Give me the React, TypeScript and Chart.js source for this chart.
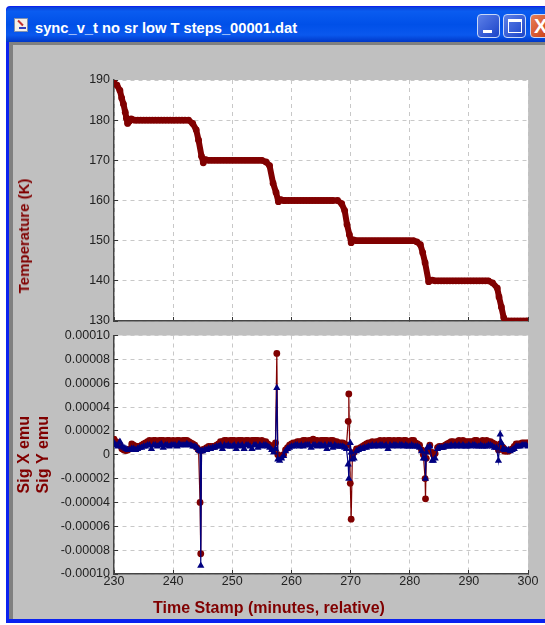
import React, { useEffect, useRef } from "react";
import { Chart, registerables } from "chart.js";

Chart.register(...registerables);

const windowTitle = "sync_v_t no sr low T steps_00001.dat";
const xTitle = "Time Stamp (minutes, relative)";
const tempTitle = "Temperature (K)";
const sigTitle = ["Sig X emu", "Sig Y emu"];
const sigTickLabels = ["-0.00010", "-0.00008", "-0.00006", "-0.00004", "-0.00002", "0", "0.00002", "0.00004", "0.00006", "0.00008", "0.00010"];

const tempTime = [
  230, 230.5, 231, 231.3, 231.6, 231.9, 232.1, 232.3, 232.6, 232.9, 233.5, 234, 234.5, 235, 235.5, 236, 236.5, 237, 237.5, 238, 238.5, 239, 239.5, 240, 240.5, 241, 241.5, 242, 242.6,
  243.3, 243.9, 244.3, 244.8, 245.1, 245.5, 246, 246.5, 247, 247.5, 248, 248.5, 249, 249.5, 250, 250.5, 251, 251.5, 252, 252.5, 253, 253.5, 254, 254.5, 255,
  255.7, 256.3, 256.9, 257.4, 257.8, 258.2, 258.7, 259, 259.5, 260, 260.5, 261, 261.5, 262, 262.5, 263, 263.5, 264, 264.5, 265, 265.5, 266, 266.5, 267, 267.8,
  268.5, 269, 269.4, 269.8, 270.1, 270.5, 271, 271.5, 272, 272.5, 273, 273.5, 274, 274.5, 275, 275.5, 276, 276.5, 277, 277.5, 278, 278.5, 279, 279.5, 280, 280.6,
  281.2, 281.8, 282.2, 282.6, 283.2, 283.8, 284.3, 284.8, 285.3, 285.8, 286.3, 286.8, 287.3, 287.8, 288.3, 288.8, 289.3, 289.8, 290.3, 290.8, 291.3, 291.8, 292.3, 292.8, 293.3,
  294, 294.8, 295.1, 295.5, 295.9, 296.2, 296.7, 297.2, 297.7, 298.2, 298.7, 299.2, 299.7, 300,
];
const temperature = [
  189.3, 188.7, 187.4, 185.5, 184, 182, 180.5, 179.2, 179.7, 180.3, 180, 180, 180, 180, 180, 180, 180, 180, 180, 180, 180, 180, 180, 180, 180, 180, 180, 180, 180,
  179.2, 177.6, 175, 171, 169.4, 170.2, 170, 170, 170, 170, 170, 170, 170, 170, 170, 170, 170, 170, 170, 170, 170, 170, 170, 170, 170,
  169.6, 168.7, 164.3, 162, 159.7, 160.2, 160, 160, 160, 160, 160, 160, 160, 160, 160, 160, 160, 160, 160, 160, 160, 160, 160, 160, 160,
  159.2, 157.5, 154, 151.5, 149.5, 150.2, 150, 150, 150, 150, 150, 150, 150, 150, 150, 150, 150, 150, 150, 150, 150, 150, 150, 150, 150, 150,
  149.7, 149, 147, 144.5, 139.8, 140.2, 140, 140, 140, 140, 140, 140, 140, 140, 140, 140, 140, 140, 140, 140, 140, 140, 140, 140, 140,
  139.5, 138.2, 136, 133.5, 130.8, 130, 130, 130, 130, 130, 130, 130, 130, 130,
];

const sigTime = [
  230, 230.33, 230.67, 231, 231.33, 231.67, 232, 232.33, 232.67, 233, 233.33, 233.67, 234, 234.33, 234.67, 235, 235.33, 235.67, 236, 236.33, 236.67, 237, 237.33, 237.67, 238, 238.33, 238.67, 239, 239.33, 239.67,
  240, 240.33, 240.67, 241, 241.33, 241.67, 242, 242.33, 242.67, 243, 243.33, 243.67, 244, 244.3, 244.55, 244.67, 244.8, 245, 245.33, 245.67, 246, 246.33, 246.67, 247, 247.33, 247.67, 248, 248.33, 248.67, 249, 249.33, 249.67,
  250, 250.33, 250.67, 251, 251.33, 251.67, 252, 252.33, 252.67, 253, 253.33, 253.67, 254, 254.33, 254.67, 255, 255.33, 255.67, 256, 256.33, 256.67, 257, 257.3, 257.53, 257.7, 258, 258.33, 258.67, 259, 259.33, 259.67,
  260, 260.33, 260.67, 261, 261.33, 261.67, 262, 262.33, 262.67, 263, 263.33, 263.67, 264, 264.33, 264.67, 265, 265.33, 265.67, 266, 266.33, 266.67, 267, 267.33, 267.67, 268, 268.33, 268.67, 269, 269.3, 269.6, 269.7,
  269.95, 270.1, 270.3, 270.6, 271, 271.33, 271.67, 272, 272.33, 272.67, 273, 273.33, 273.67, 274, 274.33, 274.67, 275, 275.33, 275.67, 276, 276.33, 276.67, 277, 277.33, 277.67, 278, 278.33, 278.67, 279, 279.33, 279.67,
  280, 280.33, 280.67, 281, 281.33, 281.67, 282, 282.3, 282.6, 282.67, 282.8, 283, 283.4, 283.8, 284, 284.3, 284.7, 285, 285.33, 285.67, 286, 286.33, 286.67, 287, 287.33, 287.67, 288, 288.33, 288.67, 289, 289.33, 289.67,
  290, 290.33, 290.67, 291, 291.33, 291.67, 292, 292.33, 292.67, 293, 293.33, 293.67, 294, 294.33, 294.67, 295, 295.3, 295.5, 295.8, 296, 296.33, 296.67, 297, 297.33, 297.67, 298, 298.33, 298.67, 299, 299.33, 299.67, 300,
];
// Both signal series are listed in units of 1e-5 emu.
const sigX = [
  1.3, 1.1, 1.0, 0.8, 0.5, 0.4, 0.35, 0.4, 0.5, 0.9, 0.8, 0.7, 0.7, 0.7, 0.8, 0.9, 1.0, 1.1, 1.2, 1.1, 1.2, 1.2, 1.1, 1.2, 1.2, 1.2, 1.1, 1.2, 1.2, 1.1,
  1.2, 1.1, 1.2, 1.2, 1.1, 1.2, 1.2, 1.2, 1.1, 1.0, 0.9, 0.8, 0.6, 0.4, -4.0, -8.3, 0.4, 0.4, 0.5, 0.6, 0.7, 0.7, 0.7, 0.7, 0.8, 0.9, 1.1, 1.1, 1.2, 1.2, 1.1, 1.2,
  1.2, 1.2, 1.1, 1.2, 1.2, 1.2, 1.1, 1.2, 1.2, 1.1, 1.2, 1.2, 1.2, 1.2, 1.1, 1.2, 1.1, 1.1, 0.9, 0.8, 0.6, 0.4, 1.0, 8.5, 0.0, -0.2, -0.1, 0.0, 0.4, 0.6, 0.8,
  0.9, 1.0, 1.0, 1.1, 1.1, 1.1, 1.2, 1.2, 1.1, 1.2, 1.2, 1.3, 1.2, 1.2, 1.1, 1.2, 1.2, 1.2, 1.2, 1.1, 1.2, 1.2, 1.1, 1.1, 1.0, 1.0, 1.0, 0.9, 0.8, 2.8, 5.1,
  -2.4, -5.4, -0.2, 0.2, 0.5, 0.5, 0.6, 0.7, 0.8, 0.9, 1.0, 1.0, 1.1, 1.0, 1.1, 1.1, 1.2, 1.1, 1.2, 1.1, 1.2, 1.2, 1.1, 1.2, 1.1, 1.2, 1.2, 1.1, 1.2, 1.2, 1.1,
  1.1, 1.2, 1.2, 1.0, 0.9, 0.8, 0.4, 0.0, -2.0, -3.7, -0.3, 0.4, 0.8, 0.2, 0.0, 0.1, 0.6, 0.7, 0.7, 0.7, 0.8, 0.9, 1.0, 1.1, 1.1, 1.0, 1.1, 1.2, 1.1, 1.2, 1.1, 1.1,
  1.1, 1.1, 1.1, 1.2, 1.2, 1.0, 1.1, 1.2, 1.1, 1.2, 1.1, 1.1, 1.0, 0.9, 0.7, 0.4, 0.9, 0.7, 0.6, 0.3, 0.3, 0.3, 0.4, 0.5, 0.7, 0.9, 0.9, 0.9, 1.0, 1.0, 1.0, 1.0,
];
const sigY = [
  1.0, 0.8, 0.7, 1.1, 0.7, 0.6, 0.5, 0.4, 0.4, 0.5, 0.5, 0.4, 0.5, 0.6, 0.6, 0.7, 0.7, 0.8, 0.8, 0.5, 0.8, 0.8, 0.7, 0.8, 0.9, 0.6, 0.8, 0.8, 0.7, 0.8,
  0.8, 0.8, 0.7, 0.9, 0.8, 0.8, 0.8, 0.9, 0.8, 0.8, 0.7, 0.7, 0.6, 0.4, 0.3, -9.3, 0.3, 0.3, 0.4, 0.4, 0.5, 0.5, 0.6, 0.6, 0.7, 0.7, 0.8, 0.5, 0.8, 0.7, 0.8, 0.7,
  0.7, 0.8, 0.5, 0.8, 0.7, 0.8, 0.5, 0.8, 0.8, 0.7, 0.5, 0.8, 0.8, 0.6, 0.8, 0.7, 0.8, 0.8, 0.7, 0.6, 0.4, 0.2, 0.5, 5.6, -0.4, -0.5, -0.3, -0.1, 0.3, 0.5, 0.6,
  0.7, 0.7, 0.8, 0.8, 0.7, 0.8, 0.7, 0.8, 0.8, 0.8, 0.6, 0.8, 0.8, 0.7, 0.8, 0.8, 0.7, 0.8, 0.5, 0.8, 0.8, 0.6, 0.8, 0.7, 0.7, 0.7, 0.7, 0.6, 0.5, -0.8, -2.0,
  1.0, 0.2, -0.4, -0.3, 0.3, 0.4, 0.5, 0.5, 0.6, 0.6, 0.7, 0.7, 0.8, 0.7, 0.8, 0.7, 0.8, 0.8, 0.7, 0.8, 0.5, 0.8, 0.7, 0.8, 0.8, 0.7, 0.8, 0.8, 0.7, 0.8, 0.7,
  0.7, 0.8, 0.7, 0.7, 0.7, 0.6, 0.3, -0.3, -0.3, -2.0, 0.2, 0.6, 0.7, -0.5, -0.5, -0.3, 0.5, 0.6, 0.6, 0.6, 0.7, 0.7, 0.7, 0.8, 0.7, 0.8, 0.7, 0.8, 0.7, 0.8, 0.7, 0.7,
  0.8, 0.7, 0.8, 0.8, 0.7, 0.7, 0.8, 0.7, 0.7, 0.7, 0.8, 0.8, 0.7, 0.6, 0.6, -0.5, 1.7, 1.0, 0.5, 0.4, 0.4, 0.4, 0.3, 0.4, 0.5, 0.7, 0.7, 0.7, 0.8, 0.8, 0.8, 0.7,
];

const RED = "#800000";
const NAVY = "#000080";
const TICK_FONT = { family: "'Liberation Sans', Arial, sans-serif", size: 12.5 };

const whitePlot = {
  id: "whitePlot",
  beforeDraw(chart: any) {
    const { ctx, chartArea: a } = chart;
    ctx.save();
    ctx.fillStyle = "#ffffff";
    ctx.fillRect(a.left, a.top, a.right - a.left, a.bottom - a.top);
    ctx.restore();
  },
};

function axes(showX: boolean, yExtra: any) {
  const grid = {
    color: "#c8c8c8",
    lineWidth: 1,
    tickLength: -4,
    tickColor: "#333333",
    tickBorderDash: [],
  };
  return {
    x: {
      type: "linear",
      min: 230,
      max: 300,
      grid,
      border: { color: "#444444", width: 1.5, dash: [4, 4] },
      ticks: {
        stepSize: 10,
        display: showX,
        color: "#222222",
        font: TICK_FONT,
        padding: 4,
        maxRotation: 0,
        autoSkip: false,
      },
      afterFit(s: any) { s.height = 24; },
    },
    y: {
      grid,
      border: { color: "#444444", width: 1.5, dash: [4, 4] },
      afterFit(s: any) { s.width = 114; },
      ...yExtra,
    },
  };
}

function opts(showX: boolean, yExtra: any, padding: any) {
  return {
    animation: false,
    responsive: false,
    layout: { padding },
    plugins: { legend: { display: false }, tooltip: { enabled: false } },
    scales: axes(showX, yExtra),
  };
}

export default function App() {
  const topRef = useRef<HTMLCanvasElement>(null);
  const botRef = useRef<HTMLCanvasElement>(null);

  useEffect(() => {
    const top = new Chart(topRef.current as any, {
      type: "line",
      plugins: [whitePlot],
      data: {
        datasets: [{
          data: tempTime.map((t, i) => ({ x: t, y: temperature[i] })),
          borderColor: RED,
          backgroundColor: RED,
          borderWidth: 6,
          borderJoinStyle: "round",
          pointRadius: 3.4,
          pointBorderWidth: 0,
          tension: 0,
        }],
      },
      options: opts(false, {
        min: 130,
        max: 190,
        ticks: { stepSize: 10, color: "#222222", font: TICK_FONT, padding: 8 },
      }, { top: 20, right: 17, bottom: 0, left: 0 }) as any,
    } as any);

    const bot = new Chart(botRef.current as any, {
      type: "line",
      plugins: [whitePlot],
      data: {
        datasets: [
          {
            label: "Sig Y",
            order: 0,
            data: sigTime.map((t, i) => ({ x: t, y: sigY[i] * 1e-5 })),
            borderColor: NAVY,
            backgroundColor: NAVY,
            borderWidth: 1.2,
            pointStyle: "triangle",
            pointRadius: 4.2,
            pointBorderWidth: 0,
            tension: 0,
          },
          {
            label: "Sig X",
            order: 1,
            data: sigTime.map((t, i) => ({ x: t, y: sigX[i] * 1e-5 })),
            borderColor: RED,
            backgroundColor: RED,
            borderWidth: 1.2,
            pointRadius: 3.4,
            pointBorderWidth: 0,
            tension: 0,
          },
        ],
      },
      options: opts(true, {
        min: -0.0001,
        max: 0.0001,
        title: {
          display: true,
          text: sigTitle,
          color: RED,
          font: { family: "'Liberation Sans', Arial, sans-serif", size: 16, weight: "bold" },
          padding: { top: 15, bottom: 0 },
        },
        ticks: {
          stepSize: 0.00002,
          color: "#222222",
          font: TICK_FONT,
          padding: 8,
          callback: (_v: any, i: number) => sigTickLabels[i],
        },
      }, { top: 13, right: 17, bottom: 0, left: 0 }) as any,
    } as any);

    return () => { top.destroy(); bot.destroy(); };
  }, []);

  const abs = (o: any): any => ({ position: "absolute", ...o });
  const btn = (left: number, bg: string, w = 23): any => abs({
    left, top: 14, width: w, height: 24, borderRadius: 4,
    border: "1px solid #c8d8f8", background: bg, boxSizing: "border-box",
    overflow: "hidden",
  });

  return (
    <div style={abs({ position: "fixed", left: 0, top: 0, width: 545, height: 625, background: "#ffffff", overflow: "hidden" })}>
      <div style={abs({ left: 6, top: 6, width: 539, height: 617, background: "#0a22f0", borderRadius: "4px 0 0 0" })} />
      <div style={abs({ left: 6, top: 7, width: 539, height: 35, borderRadius: "5px 0 0 0", background: "linear-gradient(180deg,#0a3fd8 0%,#0a5cf0 12%,#0050e8 50%,#0a58ee 80%,#0038c8 100%)" })} />
      <div style={abs({ left: 9, top: 42, width: 536, height: 577, background: "#808080" })} />
      <div style={abs({ left: 13, top: 45, width: 532, height: 574, background: "#c0c0c0" })} />

      <div style={abs({ left: 14, top: 18, width: 14, height: 14, background: "#f4f0e8", border: "1px solid #8090b0", boxSizing: "border-box" })}>
        <div style={abs({ left: 2, top: 3, width: 7, height: 2, background: "#c03030", transform: "rotate(45deg)" })} />
        <div style={abs({ left: 4, top: 8, width: 7, height: 2, background: "#3040c0" })} />
      </div>
      <div style={abs({ left: 35, top: 18, color: "#ffffff", fontFamily: "'Liberation Sans', Arial, sans-serif", fontWeight: "bold", fontSize: 14.7, lineHeight: "20px", whiteSpace: "nowrap" })}>
        {windowTitle}
      </div>
      <div style={btn(477, "linear-gradient(135deg,#5c80e8,#1c44c8)")}>
        <div style={abs({ left: 5, top: 15, width: 9, height: 3, background: "#ffffff" })} />
      </div>
      <div style={btn(503, "linear-gradient(135deg,#5c80e8,#1c44c8)")}>
        <div style={abs({ left: 4, top: 4, width: 14, height: 14, border: "1px solid #ffffff", borderTop: "3px solid #ffffff", boxSizing: "border-box" })} />
      </div>
      <div style={btn(530, "linear-gradient(135deg,#e88058,#c83810)")}>
        <div style={abs({ left: 3, top: 0, color: "#ffffff", fontFamily: "'Liberation Sans', Arial, sans-serif", fontWeight: "bold", fontSize: 20, lineHeight: "22px" })}>X</div>
      </div>

      <canvas ref={topRef} width={545} height={285} style={abs({ left: 0, top: 60, width: 545, height: 285 })} />
      <canvas ref={botRef} width={545} height={278} style={abs({ left: 0, top: 320, width: 545, height: 278 })} />

      <div style={abs({ left: 24, top: 236, color: RED, fontFamily: "'Liberation Sans', Arial, sans-serif", fontWeight: "bold", fontSize: 15, lineHeight: "18px", whiteSpace: "nowrap", transform: "translate(-50%,-50%) rotate(-90deg)" })}>
        {tempTitle}
      </div>
      <div style={abs({ left: 269, top: 608, color: RED, fontFamily: "'Liberation Sans', Arial, sans-serif", fontWeight: "bold", fontSize: 16, lineHeight: "18px", whiteSpace: "nowrap", transform: "translate(-50%,-50%)" })}>
        {xTitle}
      </div>
    </div>
  );
}
